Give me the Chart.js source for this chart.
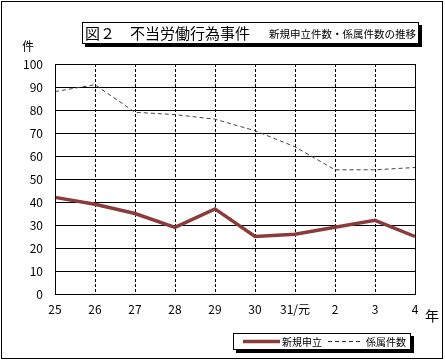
<!DOCTYPE html>
<html>
<head>
<meta charset="utf-8">
<script src="https://cdn.jsdelivr.net/npm/chart.js@4/dist/chart.umd.min.js"></script>
<style>
  html, body { margin: 0; padding: 0; background: #fff; }
  #wrap { width: 445px; height: 361px; }
</style>
</head>
<body>
<div id="wrap"><canvas id="chart" width="445" height="361"></canvas></div>
<script>
// 年度ラベル
const years = ['25', '26', '27', '28', '29', '30', '31/元', '2', '3', '4'];
// 新規申立件数
const newCases = [42, 39, 35, 29, 37, 25, 26, 29, 32, 25];
// 係属件数
const pendingCases = [88, 91, 79, 78, 76, 71, 64, 54, 54, 55];
const yTicks = [0, 10, 20, 30, 40, 50, 60, 70, 80, 90, 100];

const jpFont = '"Noto Sans CJK JP", sans-serif';
const redColor = '#8c3b3b';

// 枠・タイトル・凡例の描画
const decorPlugin = {
    id: 'decor',
    afterDraw(chart) {
        const ctx = chart.ctx;
        const area = chart.chartArea;
        ctx.save();

        // 外枠
        ctx.strokeStyle = '#000';
        ctx.lineWidth = 1;
        ctx.strokeRect(1.5, 1.5, 441, 357);

        // プロット枠
        ctx.strokeRect(area.left + 0.5, area.top + 0.5, area.right - area.left, area.bottom - area.top);

        // タイトル枠（影付き）
        ctx.fillStyle = '#000';
        ctx.fillRect(85, 25, 337, 22);
        ctx.fillStyle = '#fff';
        ctx.fillRect(82, 22, 337, 22);
        ctx.strokeRect(82.5, 22.5, 336, 21);
        ctx.fillStyle = '#000';
        ctx.textBaseline = 'middle';
        ctx.textAlign = 'left';
        ctx.font = '15px ' + jpFont;
        ctx.fillText('図２　不当労働行為事件', 85, 33);
        ctx.font = '10.5px ' + jpFont;
        ctx.textAlign = 'right';
        ctx.fillText('新規申立件数・係属件数の推移', 416, 34);

        // 軸単位
        ctx.font = '12px ' + jpFont;
        ctx.textAlign = 'center';
        ctx.fillText('件', 28, 46);
        ctx.font = '14px ' + jpFont;
        ctx.fillText('年', 432, 316);

        // 凡例枠（影付き）
        ctx.fillStyle = '#000';
        ctx.fillRect(236, 336, 178, 17);
        ctx.fillStyle = '#fff';
        ctx.fillRect(233, 333, 178, 17);
        ctx.strokeRect(233.5, 333.5, 177, 16);

        ctx.strokeStyle = redColor;
        ctx.lineWidth = 3.5;
        ctx.beginPath();
        ctx.moveTo(243, 341.5);
        ctx.lineTo(280, 341.5);
        ctx.stroke();

        ctx.strokeStyle = '#333';
        ctx.lineWidth = 1;
        ctx.setLineDash([4, 3]);
        ctx.beginPath();
        ctx.moveTo(328, 341.5);
        ctx.lineTo(362, 341.5);
        ctx.stroke();
        ctx.setLineDash([]);

        ctx.fillStyle = '#000';
        ctx.font = '10px ' + jpFont;
        ctx.textAlign = 'left';
        ctx.fillText('新規申立', 282, 342);
        ctx.fillText('係属件数', 366, 342);

        ctx.restore();
    }
};

const chart = new Chart(document.getElementById('chart').getContext('2d'), {
    type: 'line',
    data: {
        labels: years,
        datasets: [{
            label: '新規申立',
            data: newCases,
            borderColor: redColor,
            borderWidth: 3.5,
            pointRadius: 0,
            tension: 0
        }, {
            label: '係属件数',
            data: pendingCases,
            borderColor: '#444',
            borderWidth: 1,
            borderDash: [4, 3],
            pointRadius: 0,
            tension: 0
        }]
    },
    options: {
        responsive: false,
        animation: false,
        layout: {
            padding: { left: 0, top: 64, right: 30, bottom: 0 }
        },
        plugins: {
            legend: { display: false },
            tooltip: { enabled: false }
        },
        scales: {
            x: {
                offset: false,
                afterFit(scale) { scale.height = 67; },
                grid: { color: '#000', lineWidth: 1, drawTicks: false },
                border: { display: true, color: '#000', dash: [3, 2] },
                ticks: {
                    color: '#000',
                    padding: 8,
                    maxRotation: 0,
                    autoSkip: false,
                    font: { family: jpFont, size: 12 }
                }
            },
            y: {
                min: 0,
                max: 100,
                afterFit(scale) { scale.width = 55; },
                afterBuildTicks(scale) { scale.ticks = yTicks.map(v => ({ value: v })); },
                grid: { color: '#000', lineWidth: 1, drawTicks: false },
                border: { display: true, color: '#000' },
                ticks: {
                    color: '#000',
                    padding: 12,
                    font: { family: jpFont, size: 12 }
                }
            }
        }
    },
    plugins: [decorPlugin]
});
</script>
</body>
</html>
